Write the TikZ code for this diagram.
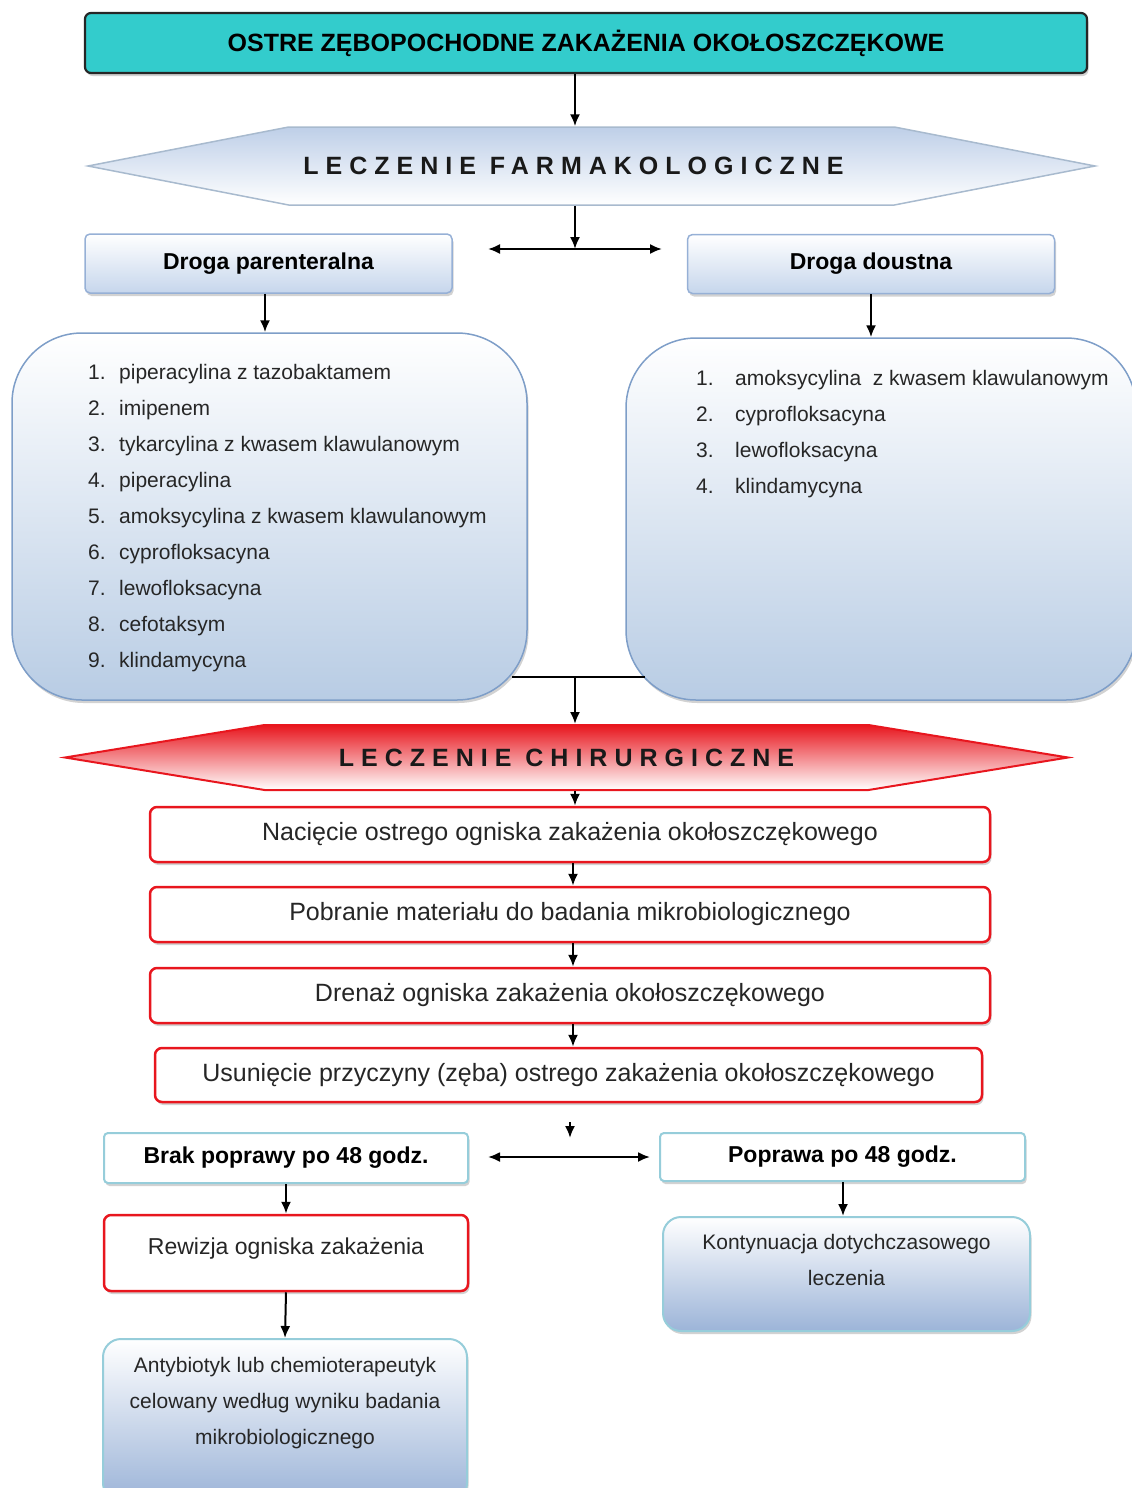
\documentclass[tikz,border=0pt]{standalone}
\usepackage{fontspec}
\setmainfont{Liberation Sans}
\newfontfamily\spacedfont[LetterSpace=28]{Liberation Sans}
\usetikzlibrary{arrows.meta, positioning, calc, shapes.symbols, shadows}

\definecolor{titleteal}{RGB}{51,204,204}
\definecolor{hexblue}{RGB}{190,207,232}
\definecolor{hexline}{RGB}{168,186,206}
\definecolor{routeline}{RGB}{150,176,214}
\definecolor{routeblue}{RGB}{198,214,236}
\definecolor{listline}{RGB}{126,158,200}
\definecolor{listblue}{RGB}{184,204,228}
\definecolor{surgred}{RGB}{232,22,30}
\definecolor{tealline}{RGB}{150,205,218}
\definecolor{resblue}{RGB}{156,180,216}

\tikzset{
  arr/.style={-{Latex[length=12pt,width=10pt]}, line width=2pt},
  dblarr/.style={{Latex[length=12pt,width=10pt]}-{Latex[length=12pt,width=10pt]}, line width=2pt},
  softshadow/.style={drop shadow={shadow xshift=1.5pt, shadow yshift=-3pt, fill=black!35, opacity=0.5}},
  titlebox/.style={rectangle, rounded corners=6pt, draw=black!85, line width=2.2pt,
    fill=titleteal, inner sep=0pt, softshadow,
    font=\fontsize{25}{29}\selectfont\bfseries},
  hexbox/.style={signal, signal to=east and west, inner sep=0pt, text=black!90,
    font=\spacedfont\bfseries\fontsize{25}{29}\selectfont},
  routebox/.style={rectangle, rounded corners=5pt, draw=routeline, line width=1.5pt,
    top color=white, bottom color=routeblue, inner sep=0pt, softshadow,
    minimum width=367pt, minimum height=59pt,
    font=\fontsize{23}{27}\selectfont\bfseries},
  listbox/.style={rectangle, rounded corners=70pt, draw=listline, line width=1.5pt,
    top color=white, bottom color=listblue, softshadow},
  listtext/.style={anchor=north west, inner sep=0pt, align=left, text=black!85,
    font=\fontsize{21}{36}\selectfont},
  redbox/.style={rectangle, rounded corners=7pt, draw=surgred, line width=2.5pt,
    fill=white, inner sep=0pt, softshadow, text=black!85,
    font=\fontsize{25}{29}\selectfont},
  tealbox/.style={rectangle, rounded corners=4pt, draw=tealline, line width=2pt,
    fill=white, inner sep=0pt, softshadow, minimum width=364pt,
    font=\fontsize{23}{27}\selectfont\bfseries},
  resbox/.style={rectangle, rounded corners=18pt, draw=tealline, line width=2pt,
    top color=white, bottom color=resblue, softshadow},
  restext/.style={anchor=north, inner sep=0pt, align=center, text=black!85,
    font=\fontsize{21}{36}\selectfont}
}

\begin{document}
\begin{tikzpicture}[x=1pt,y=-1pt]
\useasboundingbox (0,0) rectangle (1132,1488);

% Title
\node[titlebox, minimum width=1002pt, minimum height=60pt] (title) at (586,43)
  {OSTRE ZĘBOPOCHODNE ZAKAŻENIA OKOŁOSZCZĘKOWE};

% Pharmacological treatment
\node[hexbox, signal pointer angle=22, minimum width=1007pt, minimum height=78pt,
  top color=hexblue, bottom color=white, draw=hexline, line width=1.5pt] (farm) at (591.5,166)
  {\kern-36pt LECZENIE FARMAKOLOGICZNE};

\node[routebox] (parent) at (268.5,263.5) {Droga parenteralna};
\node[routebox] (oral) at (871,264) {Droga doustna};

\node[listbox, minimum width=515pt, minimum height=367pt] (listL) at (269.5,516.5) {};
\node[listtext] (drugsL) at (88,364)
  {\makebox[31pt][l]{1.}piperacylina z tazobaktamem\\
   \makebox[31pt][l]{2.}imipenem\\
   \makebox[31pt][l]{3.}tykarcylina z kwasem klawulanowym\\
   \makebox[31pt][l]{4.}piperacylina\\
   \makebox[31pt][l]{5.}amoksycylina z kwasem klawulanowym\\
   \makebox[31pt][l]{6.}cyprofloksacyna\\
   \makebox[31pt][l]{7.}lewofloksacyna\\
   \makebox[31pt][l]{8.}cefotaksym\\
   \makebox[31pt][l]{9.}klindamycyna};

\node[listbox, minimum width=510pt, minimum height=362pt] (listR) at (881,519) {};
\node[listtext] (drugsR) at (696,370)
  {\makebox[39pt][l]{1.}amoksycylina\ \ z kwasem klawulanowym\\
   \makebox[39pt][l]{2.}cyprofloksacyna\\
   \makebox[39pt][l]{3.}lewofloksacyna\\
   \makebox[39pt][l]{4.}klindamycyna};

\coordinate (fork1) at (575,249);
\coordinate (fork1L) at (488,249);
\coordinate (fork1R) at (662,249);
\coordinate (joinL) at (512,677);
\coordinate (joinR) at (645,677);
\coordinate (join) at (575,677);

\draw[arr] (title.south -| 575,0) -- (farm.north -| 575,0);
\draw[arr] (farm.south -| 575,0) -- (fork1);
\draw[dblarr] (fork1L) -- (fork1R);
\draw[arr] (parent.south -| 265,0) -- (listL.north -| 265,0);
\draw[arr] (oral.south) -- (oral.south |- listR.north);
\draw[line width=2pt] (joinL) -- (joinR);

% Surgical treatment
\node[hexbox, signal pointer angle=18.5, minimum width=1003pt, minimum height=65pt,
  top color=surgred, bottom color=white, draw=surgred, line width=2pt] (chir) at (566.5,757.5)
  {LECZENIE CHIRURGICZNE};

\draw[arr] (join) -- (chir.north -| join);

\node[redbox, minimum width=840pt, minimum height=55pt] (step1) at (570,834.5)
  {Nacięcie ostrego ogniska zakażenia okołoszczękowego};
\node[redbox, minimum width=840pt, minimum height=55pt] (step2) at (570,914.5)
  {Pobranie materiału do badania mikrobiologicznego};
\node[redbox, minimum width=840pt, minimum height=55pt] (step3) at (570,995.5)
  {Drenaż ogniska zakażenia okołoszczękowego};
\node[redbox, minimum width=827pt, minimum height=54pt] (step4) at (568.5,1075)
  {Usunięcie przyczyny (zęba) ostrego zakażenia okołoszczękowego};

\draw[arr] (chir.south -| 575,0) -- (step1.north -| 575,0);
\draw[arr] (step1.south -| 573,0) -- (step2.north -| 573,0);
\draw[arr] (step2.south -| 573,0) -- (step3.north -| 573,0);
\draw[arr] (step3.south -| 573,0) -- (step4.north -| 573,0);

% After 48 h
\coordinate (fork2a) at (570,1122);
\coordinate (fork2) at (570,1138);
\coordinate (fork2L) at (488,1157);
\coordinate (fork2R) at (650,1157);
\draw[arr] (fork2a) -- (fork2);
\draw[dblarr] (fork2L) -- (fork2R);

\node[tealbox, minimum height=50pt] (worse) at (286,1158) {Brak poprawy po 48 godz.};
\node[tealbox, minimum width=365pt, minimum height=48pt] (better) at (842.5,1157) {Poprawa po 48 godz.};

\node[redbox, minimum width=364pt, text height=39pt, text depth=37pt,
  font=\fontsize{23}{27}\selectfont] (revision) at (286,1253) {Rewizja ogniska zakażenia};

\node[resbox, minimum width=367pt, minimum height=114pt] (cont) at (846.5,1274) {};
\node[restext] (conttext) at ($(cont.north)+(0,18)$) {Kontynuacja dotychczasowego\\leczenia};

\node[resbox, minimum width=364pt, minimum height=162pt] (antib) at (285,1420) {};
\node[restext] (antibtext) at ($(antib.north)+(0,19)$)
  {Antybiotyk lub chemioterapeutyk\\celowany według wyniku badania\\mikrobiologicznego};

\draw[arr] (worse.south) -- (revision.north);
\draw[arr] (better.south -| 843,0) -- (cont.north -| 843,0);
\draw[arr] (revision.south) -- (antib.north);
\end{tikzpicture}
\end{document}
